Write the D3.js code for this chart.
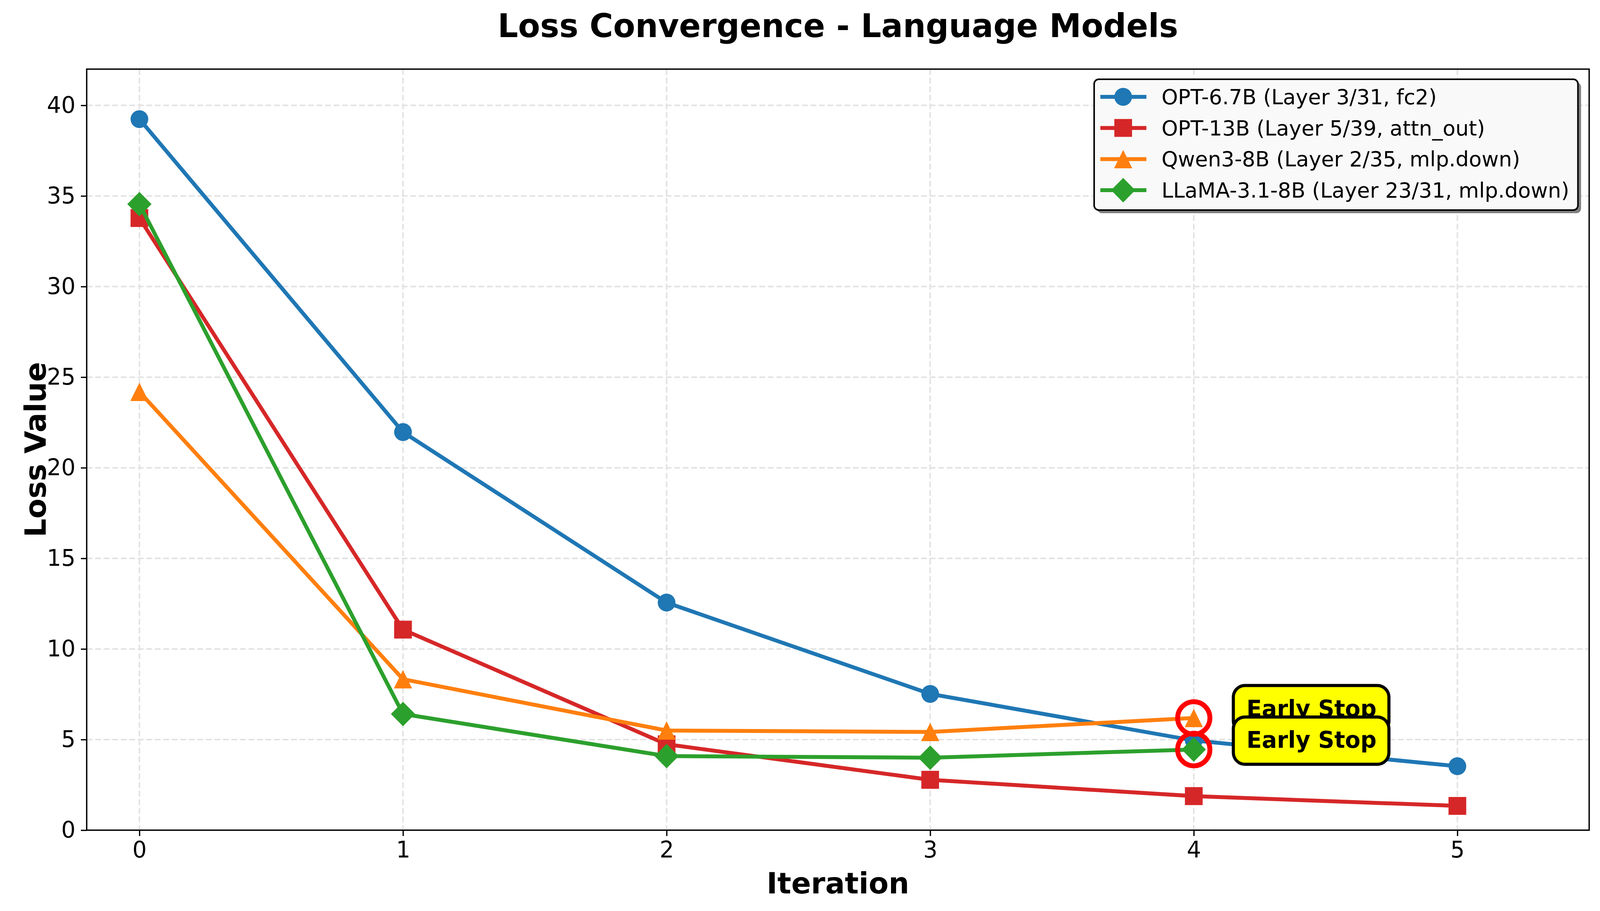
<!DOCTYPE html>
<html>
<head>
<meta charset="utf-8">
<script src="https://cdn.jsdelivr.net/npm/d3@7.9.0/dist/d3.min.js"></script>
<style>
  html, body { margin: 0; padding: 0; background: #fff; overflow: hidden; }
  svg { display: block; width: 100vw; height: 100vh; font-family: "DejaVu Sans", sans-serif; }
</style>
</head>
<body>
<svg id="chart" viewBox="0 0 4134 2333" preserveAspectRatio="none"></svg>
<script>
// data
const iterations = [0, 1, 2, 3, 4, 5];
const seriesNames = [
    "OPT-6.7B (Layer 3/31, fc2)",
    "OPT-13B (Layer 5/39, attn_out)",
    "Qwen3-8B (Layer 2/35, mlp.down)",
    "LLaMA-3.1-8B (Layer 23/31, mlp.down)"
];
const opt67b = [39.24, 21.97, 12.56, 7.52, 4.95, 3.53];
const opt13b = [33.78, 11.07, 4.74, 2.78, 1.88, 1.34];
const qwen3 = [24.19, 8.33, 5.50, 5.42, 6.19];
const llama31 = [34.55, 6.41, 4.09, 4.00, 4.45];
const seriesColors = ["#1f77b4", "#d62728", "#ff7f0e", "#2ca02c"];
const seriesMarkers = ["circle", "square", "triangle", "diamond"];
const yTicks = [0, 5, 10, 15, 20, 25, 30, 35, 40];
// series that stopped early (index into seriesNames)
const earlyStopped = [2, 3];

const allSeries = [opt67b, opt13b, qwen3, llama31];

const margin = { left: 224, right: 4106, top: 177, bottom: 2126 };
const svg = d3.select("#chart");

const x = d3.scaleLinear().domain([-0.2, 5.5]).range([margin.left, margin.right]);
const y = d3.scaleLinear().domain([0, 42]).range([margin.bottom, margin.top]);

// grid
const grid = svg.append("g");
grid.selectAll("line.gx").data(iterations).enter().append("line")
    .attr("x1", d => x(d)).attr("x2", d => x(d))
    .attr("y1", margin.top).attr("y2", margin.bottom)
    .attr("stroke", "#e3e3e3").attr("stroke-width", 4).attr("stroke-dasharray", "15,7");
grid.selectAll("line.gy").data(yTicks).enter().append("line")
    .attr("x1", margin.left).attr("x2", margin.right)
    .attr("y1", d => y(d)).attr("y2", d => y(d))
    .attr("stroke", "#e3e3e3").attr("stroke-width", 4).attr("stroke-dasharray", "15,7");

function markerPath(type) {
    const r = 22.9;
    if (type === "circle") return d3.symbol(d3.symbolCircle, Math.PI * r * r)();
    if (type === "square") return `M${-r},${-r}H${r}V${r}H${-r}Z`;
    if (type === "triangle") return `M0,${-r - 0.6}L${r + 0.6},${r + 0.6}L${-r - 0.6},${r + 0.6}Z`;
    const h = 31.3;
    return `M0,${-h}L${h},0L0,${h}L${-h},0Z`;
}

const line = d3.line().x((d, i) => x(iterations[i])).y(d => y(d));

allSeries.forEach((vals, si) => {
    const g = svg.append("g");
    g.append("path").attr("d", line(vals))
        .attr("fill", "none").attr("stroke", seriesColors[si])
        .attr("stroke-width", 10).attr("stroke-linejoin", "round");
    g.selectAll("path.m").data(vals).enter().append("path")
        .attr("d", markerPath(seriesMarkers[si]))
        .attr("transform", (d, i) => `translate(${x(iterations[i])},${y(d)})`)
        .attr("fill", seriesColors[si]);
});

// early stop circles + labels
earlyStopped.forEach(si => {
    const vals = allSeries[si];
    const last = vals.length - 1;
    svg.append("circle")
        .attr("cx", x(iterations[last])).attr("cy", y(vals[last]))
        .attr("r", 41.7).attr("fill", "none")
        .attr("stroke", "#ff0000").attr("stroke-width", 12.5);
});
earlyStopped.forEach(si => {
    const vals = allSeries[si];
    const last = vals.length - 1;
    const tx = x(iterations[last] + 0.2);
    const ty = y(vals[last] + 0.5);
    const g = svg.append("g");
    g.append("rect")
        .attr("x", tx - 34).attr("y", ty - 60)
        .attr("width", 402).attr("height", 121)
        .attr("rx", 30).attr("ry", 30)
        .attr("fill", "#ffff00").attr("stroke", "#000").attr("stroke-width", 8);
    g.append("text")
        .attr("x", tx).attr("y", ty + 19)
        .attr("font-size", 58).attr("font-weight", "bold")
        .text("Early Stop");
});

// axes
const xAxis = svg.append("g").attr("transform", `translate(0,${margin.bottom})`)
    .call(d3.axisBottom(x).tickValues(iterations).tickFormat(d3.format("d"))
        .tickSize(15).tickPadding(14));
const yAxis = svg.append("g").attr("transform", `translate(${margin.left},0)`)
    .call(d3.axisLeft(y).tickValues(yTicks).tickSize(15).tickPadding(14));
[xAxis, yAxis].forEach(a => {
    a.select(".domain").remove();
    a.selectAll("line").attr("stroke", "#000").attr("stroke-width", 3.3);
    a.selectAll("text").attr("font-size", 58).attr("font-family", "DejaVu Sans").attr("fill", "#000");
});
svg.append("rect")
    .attr("x", margin.left).attr("y", margin.top)
    .attr("width", margin.right - margin.left).attr("height", margin.bottom - margin.top)
    .attr("fill", "none").attr("stroke", "#000").attr("stroke-width", 3.5);

// titles
svg.append("text").attr("x", (margin.left + margin.right) / 2).attr("y", 95)
    .attr("text-anchor", "middle").attr("font-size", 83).attr("font-weight", "bold")
    .text("Loss Convergence - Language Models");
svg.append("text").attr("x", (margin.left + margin.right) / 2).attr("y", 2288)
    .attr("text-anchor", "middle").attr("font-size", 75).attr("font-weight", "bold")
    .text("Iteration");
svg.append("text").attr("transform", `translate(118,${(margin.top + margin.bottom) / 2}) rotate(-90)`)
    .attr("text-anchor", "middle").attr("font-size", 75).attr("font-weight", "bold")
    .text("Loss Value");

// legend
const lg = svg.append("g");
lg.append("rect").attr("x", 2835).attr("y", 211).attr("width", 1250).attr("height", 335)
    .attr("rx", 12).attr("fill", "#808080");
lg.append("rect").attr("x", 2827).attr("y", 203).attr("width", 1250).attr("height", 335)
    .attr("rx", 12).attr("fill", "#f9f9f9").attr("stroke", "#000").attr("stroke-width", 4);
seriesNames.forEach((name, si) => {
    const cy = 248 + si * 79.7;
    lg.append("line").attr("x1", 2843).attr("x2", 2962).attr("y1", cy).attr("y2", cy)
        .attr("stroke", seriesColors[si]).attr("stroke-width", 10);
    lg.append("path").attr("d", markerPath(seriesMarkers[si]))
        .attr("transform", `translate(2902,${cy})`).attr("fill", seriesColors[si]);
    lg.append("text").attr("x", 3001).attr("y", cy + 19)
        .attr("font-size", 54).text(name);
});
</script>
</body>
</html>
